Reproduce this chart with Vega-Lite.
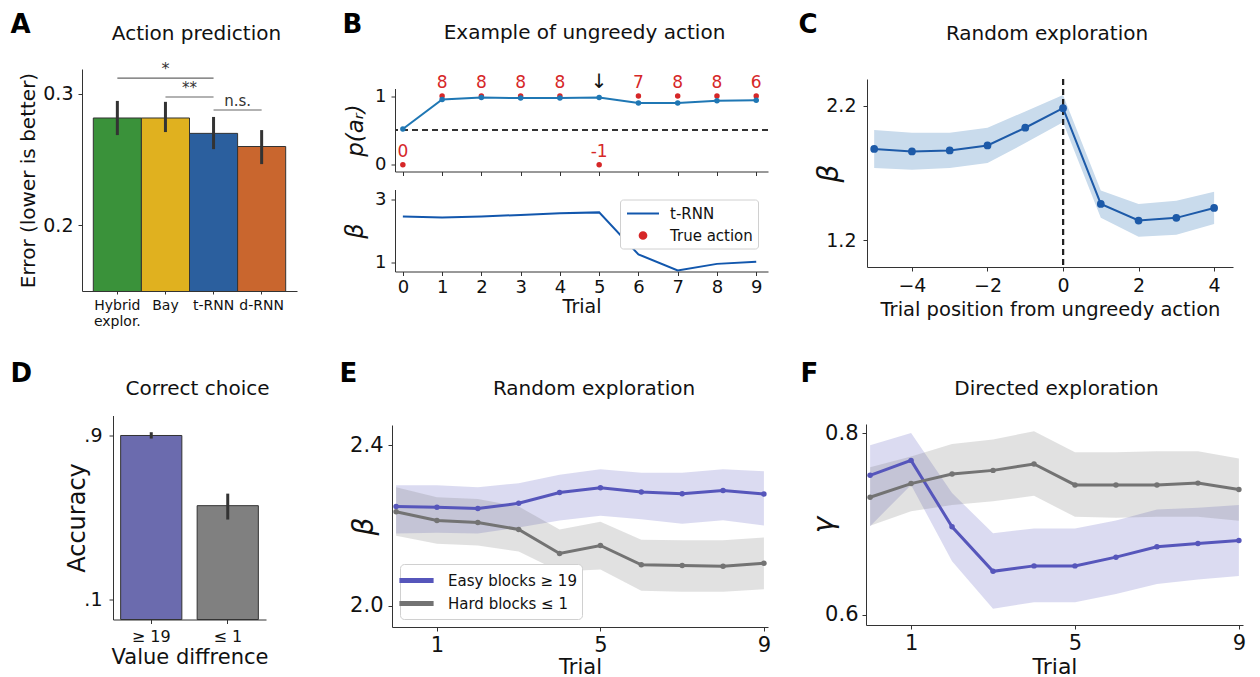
{
  "$schema": "https://vega.github.io/schema/vega-lite/v6.json",
  "background": "white",
  "padding": {"left": 10, "top": 8, "right": 5, "bottom": 2},
  "config": {
    "font": "DejaVu Sans",
    "view": {"stroke": null},
    "axis": {"grid": false, "tickSize": 4, "domainColor": "#333", "tickColor": "#333", "labelColor": "#111", "titleColor": "#111", "titleFontWeight": "normal", "labelFont": "DejaVu Sans", "titleFont": "DejaVu Sans"},
    "title": {"font": "DejaVu Sans", "fontWeight": "normal", "fontSize": 20, "color": "#111"},
    "legend": {"labelFont": "DejaVu Sans", "labelColor": "#111"}
  },
  "datasets": {
    "A": [
      {"model": "Hybrid explor.", "err": 0.2817, "lo": 0.2687, "hi": 0.2947},
      {"model": "Bay", "err": 0.2817, "lo": 0.271, "hi": 0.294},
      {"model": "t-RNN", "err": 0.270, "lo": 0.258, "hi": 0.2825},
      {"model": "d-RNN", "err": 0.260, "lo": 0.2466, "hi": 0.2725}
    ],
    "Asig": [
      {"from": "Hybrid explor.", "to": "t-RNN", "at": "Bay", "level": 0.312, "label": "*"},
      {"from": "Bay", "to": "t-RNN", "at": "t-RNN", "level": 0.2977, "label": "**"},
      {"from": "t-RNN", "to": "d-RNN", "at": "d-RNN", "level": 0.2878, "label": "n.s."}
    ],
    "B": [
      {"trial": 0, "p": 0.52, "beta": 2.45, "action": 0, "label": "0"},
      {"trial": 1, "p": 0.95, "beta": 2.42, "action": 1, "label": "8"},
      {"trial": 2, "p": 0.98, "beta": 2.45, "action": 1, "label": "8"},
      {"trial": 3, "p": 0.97, "beta": 2.50, "action": 1, "label": "8"},
      {"trial": 4, "p": 0.97, "beta": 2.55, "action": 1, "label": "8"},
      {"trial": 5, "p": 0.98, "beta": 2.58, "action": 0, "label": "-1"},
      {"trial": 6, "p": 0.90, "beta": 1.26, "action": 1, "label": "7"},
      {"trial": 7, "p": 0.90, "beta": 0.75, "action": 1, "label": "8"},
      {"trial": 8, "p": 0.93, "beta": 0.96, "action": 1, "label": "8"},
      {"trial": 9, "p": 0.94, "beta": 1.03, "action": 1, "label": "6"}
    ],
    "Barrow": [{"trial": 5, "arrow": "↓"}],
    "C": [
      {"pos": -5, "beta": 1.879, "lo": 1.737, "hi": 2.02},
      {"pos": -4, "beta": 1.861, "lo": 1.725, "hi": 2.0},
      {"pos": -3, "beta": 1.868, "lo": 1.737, "hi": 2.0},
      {"pos": -2, "beta": 1.905, "lo": 1.774, "hi": 2.037},
      {"pos": -1, "beta": 2.037, "lo": 1.923, "hi": 2.158},
      {"pos": 0, "beta": 2.183, "lo": 2.077, "hi": 2.28},
      {"pos": 1, "beta": 1.47, "lo": 1.366, "hi": 1.57},
      {"pos": 2, "beta": 1.346, "lo": 1.225, "hi": 1.47},
      {"pos": 3, "beta": 1.366, "lo": 1.24, "hi": 1.494},
      {"pos": 4, "beta": 1.44, "lo": 1.32, "hi": 1.56}
    ],
    "D": [
      {"diff": "≥ 19", "acc": 0.902, "lo": 0.887, "hi": 0.918},
      {"diff": "≤ 1", "acc": 0.558, "lo": 0.49, "hi": 0.617}
    ],
    "E": [
      {"trial": 0, "group": "Easy blocks ≥ 19", "mean": 2.247, "lo": 2.18, "hi": 2.30},
      {"trial": 1, "group": "Easy blocks ≥ 19", "mean": 2.245, "lo": 2.182, "hi": 2.30},
      {"trial": 2, "group": "Easy blocks ≥ 19", "mean": 2.242, "lo": 2.18, "hi": 2.295},
      {"trial": 3, "group": "Easy blocks ≥ 19", "mean": 2.255, "lo": 2.195, "hi": 2.305},
      {"trial": 4, "group": "Easy blocks ≥ 19", "mean": 2.282, "lo": 2.212, "hi": 2.326},
      {"trial": 5, "group": "Easy blocks ≥ 19", "mean": 2.294, "lo": 2.224, "hi": 2.34},
      {"trial": 6, "group": "Easy blocks ≥ 19", "mean": 2.283, "lo": 2.215, "hi": 2.331},
      {"trial": 7, "group": "Easy blocks ≥ 19", "mean": 2.279, "lo": 2.204, "hi": 2.331},
      {"trial": 8, "group": "Easy blocks ≥ 19", "mean": 2.287, "lo": 2.213, "hi": 2.34},
      {"trial": 9, "group": "Easy blocks ≥ 19", "mean": 2.278, "lo": 2.20, "hi": 2.335},
      {"trial": 0, "group": "Hard blocks ≤ 1", "mean": 2.234, "lo": 2.174, "hi": 2.295},
      {"trial": 1, "group": "Hard blocks ≤ 1", "mean": 2.212, "lo": 2.154, "hi": 2.27},
      {"trial": 2, "group": "Hard blocks ≤ 1", "mean": 2.207, "lo": 2.15, "hi": 2.266},
      {"trial": 3, "group": "Hard blocks ≤ 1", "mean": 2.19, "lo": 2.135, "hi": 2.247},
      {"trial": 4, "group": "Hard blocks ≤ 1", "mean": 2.13, "lo": 2.085, "hi": 2.19},
      {"trial": 5, "group": "Hard blocks ≤ 1", "mean": 2.15, "lo": 2.09, "hi": 2.209},
      {"trial": 6, "group": "Hard blocks ≤ 1", "mean": 2.102, "lo": 2.037, "hi": 2.164},
      {"trial": 7, "group": "Hard blocks ≤ 1", "mean": 2.10, "lo": 2.035, "hi": 2.163},
      {"trial": 8, "group": "Hard blocks ≤ 1", "mean": 2.098, "lo": 2.035, "hi": 2.163},
      {"trial": 9, "group": "Hard blocks ≤ 1", "mean": 2.106, "lo": 2.041, "hi": 2.17}
    ],
    "F": [
      {"trial": 0, "group": "Easy blocks ≥ 19", "mean": 0.7536, "lo": 0.6977, "hi": 0.7865},
      {"trial": 1, "group": "Easy blocks ≥ 19", "mean": 0.770, "lo": 0.743, "hi": 0.800},
      {"trial": 2, "group": "Easy blocks ≥ 19", "mean": 0.697, "lo": 0.659, "hi": 0.734},
      {"trial": 3, "group": "Easy blocks ≥ 19", "mean": 0.648, "lo": 0.607, "hi": 0.690},
      {"trial": 4, "group": "Easy blocks ≥ 19", "mean": 0.654, "lo": 0.614, "hi": 0.695},
      {"trial": 5, "group": "Easy blocks ≥ 19", "mean": 0.654, "lo": 0.614, "hi": 0.695},
      {"trial": 6, "group": "Easy blocks ≥ 19", "mean": 0.6636, "lo": 0.623, "hi": 0.704},
      {"trial": 7, "group": "Easy blocks ≥ 19", "mean": 0.675, "lo": 0.634, "hi": 0.716},
      {"trial": 8, "group": "Easy blocks ≥ 19", "mean": 0.6787, "lo": 0.639, "hi": 0.718},
      {"trial": 9, "group": "Easy blocks ≥ 19", "mean": 0.682, "lo": 0.643, "hi": 0.721},
      {"trial": 0, "group": "Hard blocks ≤ 1", "mean": 0.7295, "lo": 0.698, "hi": 0.7624},
      {"trial": 1, "group": "Hard blocks ≤ 1", "mean": 0.7445, "lo": 0.714, "hi": 0.7744},
      {"trial": 2, "group": "Hard blocks ≤ 1", "mean": 0.755, "lo": 0.721, "hi": 0.788},
      {"trial": 3, "group": "Hard blocks ≤ 1", "mean": 0.759, "lo": 0.725, "hi": 0.793},
      {"trial": 4, "group": "Hard blocks ≤ 1", "mean": 0.766, "lo": 0.731, "hi": 0.802},
      {"trial": 5, "group": "Hard blocks ≤ 1", "mean": 0.743, "lo": 0.708, "hi": 0.779},
      {"trial": 6, "group": "Hard blocks ≤ 1", "mean": 0.743, "lo": 0.707, "hi": 0.779},
      {"trial": 7, "group": "Hard blocks ≤ 1", "mean": 0.743, "lo": 0.708, "hi": 0.780},
      {"trial": 8, "group": "Hard blocks ≤ 1", "mean": 0.745, "lo": 0.708, "hi": 0.780},
      {"trial": 9, "group": "Hard blocks ≤ 1", "mean": 0.738, "lo": 0.7036, "hi": 0.772}
    ]
  },
  "resolve": {"scale": {"color": "independent", "fill": "independent"}, "legend": {"color": "independent", "fill": "independent"}},
  "spacing": 29,
  "vconcat": [
    {
      "spacing": 45,
      "resolve": {"scale": {"color": "independent", "fill": "independent"}, "legend": {"color": "independent", "fill": "independent"}},
      "hconcat": [
        {
          "spacing": -13,
          "resolve": {"scale": {"color": "independent", "fill": "independent"}, "legend": {"color": "independent", "fill": "independent"}},
          "hconcat": [
            {"width": 1, "height": 1, "data": {"values": [{"letter": "A"}]}, "mark": {"type": "text", "align": "left", "baseline": "top", "fontSize": 26, "fontWeight": "bold", "color": "#000"}, "encoding": {"text": {"field": "letter"}}},
            {
              "spacing": 9,
              "resolve": {"scale": {"color": "independent", "fill": "independent"}, "legend": {"color": "independent", "fill": "independent"}},
              "vconcat": [
                {"width": 1, "height": 1, "data": {"values": [{}]}, "mark": {"type": "point", "opacity": 0}},
                {
                  "width": 215, "height": 222,
                  "title": {"text": "Action prediction", "frame": "group", "offset": 17, "dx": 7},
                  "layer": [
                    {
                      "data": {"name": "A"},
                      "mark": {"type": "bar", "stroke": "#333", "strokeWidth": 1, "clip": true},
                      "encoding": {
                        "x": {"field": "model", "type": "nominal", "title": null, "scale": {"domain": ["Hybrid explor.", "Bay", "t-RNN", "d-RNN"], "paddingInner": 0, "paddingOuter": 0.235},
                          "axis": {"labelAngle": 0, "labelFontSize": 14, "tickSize": 3, "labelPadding": 4, "labelExpr": "datum.value === 'Hybrid explor.' ? ['Hybrid', 'explor.'] : datum.label"}},
                        "y": {"field": "err", "type": "quantitative", "title": "Error (lower is better)", "scale": {"domain": [0.15, 0.319], "nice": false, "zero": false},
                          "axis": {"values": [0.2, 0.3], "format": ".1f", "labelFontSize": 19, "labelPadding": 5, "titleFontSize": 20, "minExtent": 38, "maxExtent": 38, "titlePadding": 6}},
                        "color": {"field": "model", "type": "nominal", "scale": {"domain": ["Hybrid explor.", "Bay", "t-RNN", "d-RNN"], "range": ["#3a923a", "#e0b11f", "#2b5f9e", "#c9662e"]}, "legend": null}
                      }
                    },
                    {
                      "data": {"name": "A"},
                      "mark": {"type": "rule", "strokeWidth": 3, "color": "#333"},
                      "encoding": {
                        "x": {"field": "model", "type": "nominal", "title": null},
                        "y": {"field": "lo", "type": "quantitative", "title": "Error (lower is better)"},
                        "y2": {"field": "hi"}
                      }
                    },
                    {
                      "data": {"name": "Asig"},
                      "mark": {"type": "rule", "strokeWidth": 1.2, "color": "#666"},
                      "encoding": {
                        "x": {"field": "from", "type": "nominal", "title": null, "bandPosition": 0.5},
                        "x2": {"field": "to", "bandPosition": 0.5},
                        "y": {"field": "level", "type": "quantitative", "title": "Error (lower is better)"}
                      }
                    },
                    {
                      "data": {"name": "Asig"},
                      "transform": [{"filter": "datum.label === '*'"}],
                      "mark": {"type": "text", "fontSize": 16, "baseline": "bottom", "dy": -1, "color": "#333"},
                      "encoding": {
                        "x": {"field": "at", "type": "nominal", "title": null, "bandPosition": 0.5},
                        "y": {"field": "level", "type": "quantitative", "title": "Error (lower is better)"},
                        "text": {"field": "label"}
                      }
                    },
                    {
                      "data": {"name": "Asig"},
                      "transform": [{"filter": "datum.label !== '*'"}],
                      "mark": {"type": "text", "fontSize": 15, "baseline": "bottom", "dy": -1, "color": "#333"},
                      "encoding": {
                        "x": {"field": "at", "type": "nominal", "title": null, "bandPosition": 0},
                        "y": {"field": "level", "type": "quantitative", "title": "Error (lower is better)"},
                        "text": {"field": "label"}
                      }
                    }
                  ]
                }
              ]
            }
          ]
        },
        {
          "spacing": 29,
          "resolve": {"scale": {"color": "independent", "fill": "independent"}, "legend": {"color": "independent", "fill": "independent"}},
          "hconcat": [
            {
              "spacing": -20,
              "resolve": {"scale": {"color": "independent", "fill": "independent"}, "legend": {"color": "independent", "fill": "independent"}},
              "hconcat": [
                {"width": 1, "height": 1, "data": {"values": [{"letter": "B"}]}, "mark": {"type": "text", "align": "left", "baseline": "top", "fontSize": 26, "fontWeight": "bold", "color": "#000"}, "encoding": {"text": {"field": "letter"}}},
                {
                  "spacing": 7.5,
                  "resolve": {"scale": {"color": "independent", "fill": "independent"}, "legend": {"color": "independent", "fill": "independent"}},
                  "vconcat": [
                    {"width": 1, "height": 1, "data": {"values": [{}]}, "mark": {"type": "point", "opacity": 0}},
                    {
                      "spacing": 13,
                      "resolve": {"scale": {"color": "independent", "fill": "independent"}, "legend": {"color": "independent", "fill": "independent"}},
                      "vconcat": [
                        {
                          "width": 373, "height": 83,
                          "title": {"text": "Example of ungreedy action", "frame": "group", "offset": 29, "dx": 3},
                          "data": {"name": "B"},
                          "layer": [
                            {
                              "mark": {"type": "point", "filled": true, "size": 30, "opacity": 1, "color": "#d62728"},
                              "encoding": {
                                "x": {"field": "trial", "type": "quantitative", "title": null, "scale": {"domain": [-0.2, 9.3], "nice": false, "zero": false},
                                  "axis": {"labels": false, "values": [0, 1, 2, 3, 4, 5, 6, 7, 8, 9], "tickSize": 4}},
                                "y": {"field": "action", "type": "quantitative", "title": "p(aᵣ)", "scale": {"domain": [-0.1, 1.11], "nice": false, "zero": false},
                                  "axis": {"titleFontStyle": "italic", "titleFontSize": 23, "values": [0, 1], "format": "d", "labelFontSize": 18, "labelPadding": 5, "minExtent": 20, "maxExtent": 20, "titlePadding": 8}}
                              }
                            },
                            {
                              "mark": {"type": "rule", "strokeDash": [6, 4], "strokeWidth": 1.5, "color": "#333"},
                              "encoding": {"y": {"datum": 0.5, "title": "p(aᵣ)"}}
                            },
                            {
                              "mark": {"type": "text", "fontSize": 17, "color": "#d62728", "baseline": "middle", "dy": -13},
                              "encoding": {
                                "x": {"field": "trial", "type": "quantitative", "title": null},
                                "y": {"field": "action", "type": "quantitative", "title": "p(aᵣ)"},
                                "text": {"field": "label"}
                              }
                            },
                            {
                              "mark": {"type": "line", "color": "#1f77b4", "strokeWidth": 2, "point": {"filled": true, "size": 30, "color": "#1f77b4"}},
                              "encoding": {
                                "x": {"field": "trial", "type": "quantitative", "title": null},
                                "y": {"field": "p", "type": "quantitative", "title": "p(aᵣ)"}
                              }
                            },
                            {
                              "data": {"name": "Barrow"},
                              "mark": {"type": "text", "fontSize": 20, "baseline": "middle", "dy": -14, "color": "#111"},
                              "encoding": {
                                "x": {"field": "trial", "type": "quantitative", "title": null},
                                "y": {"datum": 1, "title": "p(aᵣ)"},
                                "text": {"field": "arrow"}
                              }
                            }
                          ]
                        },
                        {
                          "width": 373, "height": 82,
                          "data": {"name": "B"},
                          "mark": {"type": "line", "strokeWidth": 2},
                          "encoding": {
                            "x": {"field": "trial", "type": "quantitative", "title": "Trial", "scale": {"domain": [-0.2, 9.3], "nice": false, "zero": false},
                              "axis": {"values": [0, 1, 2, 3, 4, 5, 6, 7, 8, 9], "format": "d", "labelFontSize": 18, "titleFontSize": 19, "labelPadding": 3, "titlePadding": 1}},
                            "y": {"field": "beta", "type": "quantitative", "title": "β", "scale": {"domain": [0.72, 3.3], "nice": false, "zero": false},
                              "axis": {"titleFontStyle": "italic", "titleFontSize": 24, "values": [1, 3], "labelFontSize": 18, "labelPadding": 5, "minExtent": 20, "maxExtent": 20, "titlePadding": 8}},
                            "color": {"datum": "t-RNN", "type": "nominal", "scale": {"domain": ["t-RNN", "True action"], "range": ["#1257ad", "#d62728"]},
                              "legend": {"orient": "top-right", "offset": 10, "title": null, "fillColor": "white", "strokeColor": "#d0d0d0", "cornerRadius": 3, "padding": 5, "labelFontSize": 15, "symbolSize": 256, "rowPadding": 5, "symbolOffset": 9, "labelOffset": 18,
                                "encode": {"symbols": {"update": {
                                  "shape": {"signal": "datum.value === 'True action' ? 'circle' : 'M-2,0H2'"},
                                  "size": {"signal": "datum.value === 'True action' ? 45 : 256"},
                                  "strokeWidth": {"value": 2},
                                  "fill": {"signal": "datum.value === 'True action' ? '#d62728' : 'transparent'"},
                                  "stroke": {"signal": "datum.value === 'True action' ? '#d62728' : '#1257ad'"}
                                }}}}}
                          }
                        }
                      ]
                    }
                  ]
                }
              ]
            },
            {
              "spacing": -3,
              "resolve": {"scale": {"color": "independent", "fill": "independent"}, "legend": {"color": "independent", "fill": "independent"}},
              "hconcat": [
                {"width": 1, "height": 1, "data": {"values": [{"letter": "C"}]}, "mark": {"type": "text", "align": "left", "baseline": "top", "fontSize": 26, "fontWeight": "bold", "color": "#000"}, "encoding": {"text": {"field": "letter"}}},
                {
                  "spacing": 9,
                  "resolve": {"scale": {"color": "independent", "fill": "independent"}, "legend": {"color": "independent", "fill": "independent"}},
                  "vconcat": [
                    {"width": 1, "height": 1, "data": {"values": [{}]}, "mark": {"type": "point", "opacity": 0}},
                    {
                      "width": 366, "height": 188,
                      "title": {"text": "Random exploration", "frame": "group", "offset": 34, "dx": -3},
                      "data": {"name": "C"},
                      "layer": [
                        {
                          "mark": {"type": "area", "color": "#c9dbec", "opacity": 1},
                          "encoding": {
                            "x": {"field": "pos", "type": "quantitative", "title": "Trial position from ungreedy action", "scale": {"domain": [-5.19, 4.5], "nice": false, "zero": false},
                              "axis": {"values": [-4, -2, 0, 2, 4], "labelFontSize": 19, "titleFontSize": 19.5, "labelPadding": 5, "titlePadding": 5}},
                            "y": {"field": "lo", "type": "quantitative", "title": "β", "scale": {"domain": [1.0, 2.4], "nice": false, "zero": false},
                              "axis": {"titleFontStyle": "italic", "titleFontSize": 28, "values": [1.2, 2.2], "format": ".1f", "labelFontSize": 19, "labelPadding": 7, "minExtent": 20, "maxExtent": 20, "titlePadding": 4}},
                            "y2": {"field": "hi"}
                          }
                        },
                        {
                          "mark": {"type": "rule", "strokeDash": [6, 4], "strokeWidth": 2, "color": "#222"},
                          "encoding": {"x": {"datum": 0, "title": "Trial position from ungreedy action"}}
                        },
                        {
                          "mark": {"type": "line", "color": "#1d5aa8", "strokeWidth": 2, "point": {"filled": true, "size": 60, "color": "#1d5aa8"}},
                          "encoding": {
                            "x": {"field": "pos", "type": "quantitative", "title": "Trial position from ungreedy action"},
                            "y": {"field": "beta", "type": "quantitative", "title": "β"}
                          }
                        }
                      ]
                    }
                  ]
                }
              ]
            }
          ]
        }
      ]
    },
    {
      "spacing": 69,
      "resolve": {"scale": {"color": "independent", "fill": "independent"}, "legend": {"color": "independent", "fill": "independent"}},
      "hconcat": [
        {
          "spacing": 32,
          "resolve": {"scale": {"color": "independent", "fill": "independent"}, "legend": {"color": "independent", "fill": "independent"}},
          "hconcat": [
            {"width": 1, "height": 1, "data": {"values": [{"letter": "D"}]}, "mark": {"type": "text", "align": "left", "baseline": "top", "fontSize": 26, "fontWeight": "bold", "color": "#000"}, "encoding": {"text": {"field": "letter"}}},
            {
              "spacing": 14.5,
              "resolve": {"scale": {"color": "independent", "fill": "independent"}, "legend": {"color": "independent", "fill": "independent"}},
              "vconcat": [
                {"width": 1, "height": 1, "data": {"values": [{}]}, "mark": {"type": "point", "opacity": 0}},
                {
                  "width": 153, "height": 204,
                  "title": {"text": "Correct choice", "frame": "group", "offset": 17, "dx": 8},
                  "data": {"name": "D"},
                  "layer": [
                    {
                      "mark": {"type": "bar", "stroke": "#333", "strokeWidth": 1},
                      "encoding": {
                        "x": {"field": "diff", "type": "nominal", "sort": null, "title": "Value diffrence", "scale": {"paddingInner": 0.2, "paddingOuter": 0.1},
                          "axis": {"labelAngle": 0, "labelFontSize": 16, "titleFontSize": 21, "labelPadding": 5, "titlePadding": 2}},
                        "y": {"field": "acc", "type": "quantitative", "title": "Accuracy", "scale": {"domain": [0, 1], "nice": false},
                          "axis": {"titleFontSize": 24, "values": [0.1, 0.9], "labelExpr": "replace(format(datum.value, '.1f'), '0.', '.')", "labelFontSize": 19, "labelPadding": 7, "minExtent": 20, "maxExtent": 20, "titlePadding": 4}},
                        "color": {"field": "diff", "type": "nominal", "sort": null, "scale": {"domain": ["≥ 19", "≤ 1"], "range": ["#6b6bae", "#808080"]}, "legend": null}
                      }
                    },
                    {
                      "mark": {"type": "rule", "strokeWidth": 3, "color": "#333"},
                      "encoding": {
                        "x": {"field": "diff", "type": "nominal", "sort": null, "title": "Value diffrence"},
                        "y": {"field": "lo", "type": "quantitative", "title": "Accuracy"},
                        "y2": {"field": "hi"}
                      }
                    }
                  ]
                }
              ]
            }
          ]
        },
        {
          "spacing": 29,
          "resolve": {"scale": {"color": "independent", "fill": "independent"}, "legend": {"color": "independent", "fill": "independent"}},
          "hconcat": [
            {
              "spacing": -9,
              "resolve": {"scale": {"color": "independent", "fill": "independent"}, "legend": {"color": "independent", "fill": "independent"}},
              "hconcat": [
                {"width": 1, "height": 1, "data": {"values": [{"letter": "E"}]}, "mark": {"type": "text", "align": "left", "baseline": "top", "fontSize": 26, "fontWeight": "bold", "color": "#000"}, "encoding": {"text": {"field": "letter"}}},
                {
                  "spacing": 15,
                  "resolve": {"scale": {"color": "independent", "fill": "independent"}, "legend": {"color": "independent", "fill": "independent"}},
                  "vconcat": [
                    {"width": 1, "height": 1, "data": {"values": [{}]}, "mark": {"type": "point", "opacity": 0}},
                    {
                      "width": 376, "height": 202,
                      "title": {"text": "Random exploration", "frame": "group", "offset": 26, "dx": 14},
                      "data": {"name": "E"},
                      "encoding": {
                        "x": {"field": "trial", "type": "quantitative", "title": "Trial", "scale": {"domain": [-0.1, 9.1], "nice": false, "zero": false},
                          "axis": {"values": [1, 5, 9], "labelFontSize": 21, "titleFontSize": 21, "labelPadding": 3, "titlePadding": 1}},
                        "color": {"field": "group", "type": "nominal", "scale": {"domain": ["Easy blocks ≥ 19", "Hard blocks ≤ 1"], "range": ["#5656bb", "#737373"]},
                          "legend": {"orient": "bottom-left", "offset": 8, "title": null, "fillColor": "white", "strokeColor": "#d0d0d0", "cornerRadius": 4, "padding": 5, "labelFontSize": 15, "symbolType": "M-1.9,0H1.9", "symbolSize": 324, "symbolStrokeWidth": 5, "symbolOpacity": 1, "symbolOffset": 0, "labelOffset": 20, "rowPadding": 1}}
                      },
                      "layer": [
                        {
                          "mark": {"type": "area", "opacity": 0.21},
                          "encoding": {
                            "y": {"field": "lo", "type": "quantitative", "title": "β", "scale": {"domain": [1.947, 2.45], "nice": false, "zero": false},
                              "axis": {"titleFontStyle": "italic", "titleFontSize": 28, "values": [2.0, 2.4], "format": ".1f", "labelFontSize": 21, "labelPadding": 5, "minExtent": 10, "maxExtent": 10, "titlePadding": 4}},
                            "y2": {"field": "hi"}
                          }
                        },
                        {
                          "mark": {"type": "line", "strokeWidth": 3, "point": {"filled": true, "size": 30}},
                          "encoding": {
                            "y": {"field": "mean", "type": "quantitative", "title": "β"}
                          }
                        }
                      ]
                    }
                  ]
                }
              ]
            },
            {
              "spacing": -9,
              "resolve": {"scale": {"color": "independent", "fill": "independent"}, "legend": {"color": "independent", "fill": "independent"}},
              "hconcat": [
                {"width": 1, "height": 1, "data": {"values": [{"letter": "F"}]}, "mark": {"type": "text", "align": "left", "baseline": "top", "fontSize": 26, "fontWeight": "bold", "color": "#000"}, "encoding": {"text": {"field": "letter"}}},
                {
                  "spacing": 15,
                  "resolve": {"scale": {"color": "independent", "fill": "independent"}, "legend": {"color": "independent", "fill": "independent"}},
                  "vconcat": [
                    {"width": 1, "height": 1, "data": {"values": [{}]}, "mark": {"type": "point", "opacity": 0}},
                    {
                      "width": 377, "height": 201,
                      "title": {"text": "Directed exploration", "frame": "group", "offset": 23, "dx": 2},
                      "data": {"name": "F"},
                      "encoding": {
                        "x": {"field": "trial", "type": "quantitative", "title": "Trial", "scale": {"domain": [-0.1, 9.1], "nice": false, "zero": false},
                          "axis": {"values": [1, 5, 9], "labelFontSize": 21, "titleFontSize": 22, "labelPadding": 3, "titlePadding": 3}},
                        "color": {"field": "group", "type": "nominal", "scale": {"domain": ["Easy blocks ≥ 19", "Hard blocks ≤ 1"], "range": ["#5656bb", "#737373"]}, "legend": null}
                      },
                      "layer": [
                        {
                          "mark": {"type": "area", "opacity": 0.21},
                          "encoding": {
                            "y": {"field": "lo", "type": "quantitative", "title": "γ", "scale": {"domain": [0.589, 0.81], "nice": false, "zero": false},
                              "axis": {"titleFontStyle": "italic", "titleFontSize": 28, "values": [0.6, 0.8], "format": ".1f", "labelFontSize": 21, "labelPadding": 4, "minExtent": 24, "maxExtent": 24, "titlePadding": 4}},
                            "y2": {"field": "hi"}
                          }
                        },
                        {
                          "mark": {"type": "line", "strokeWidth": 3, "point": {"filled": true, "size": 30}},
                          "encoding": {
                            "y": {"field": "mean", "type": "quantitative", "title": "γ"}
                          }
                        }
                      ]
                    }
                  ]
                }
              ]
            }
          ]
        }
      ]
    }
  ]
}
